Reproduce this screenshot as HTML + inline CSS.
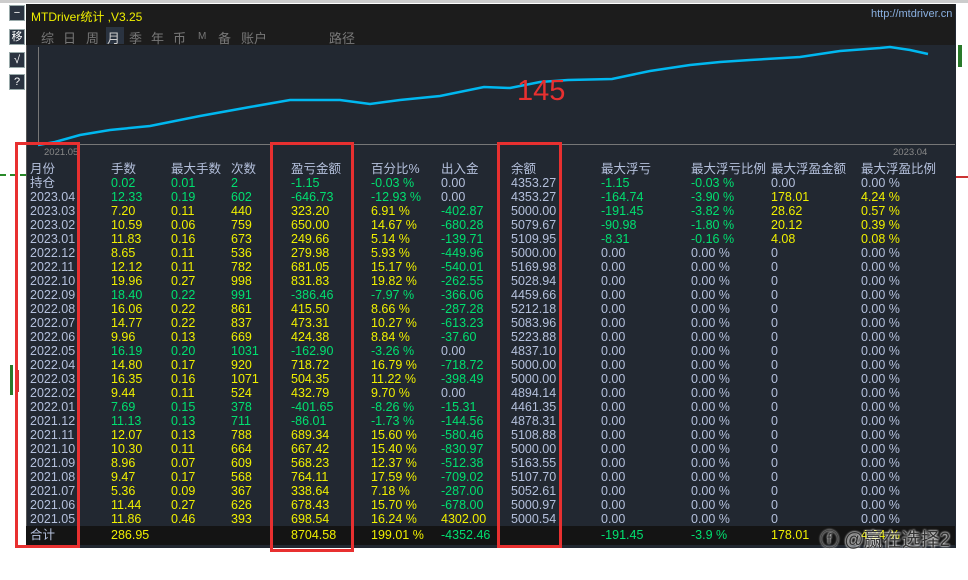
<!DOCTYPE html>
<html><head><meta charset="utf-8"><style>
body{margin:0;width:968px;height:580px;background:#fff;position:relative;overflow:hidden;font-family:"Liberation Sans","Noto Sans CJK SC",sans-serif;}
.a{position:absolute}
.r{position:absolute;left:0;width:968px;height:14px;font-size:12.5px;line-height:14px;white-space:nowrap}
.r span{position:absolute}
.r span:nth-child(1){left:30px}.r span:nth-child(2){left:111px}.r span:nth-child(3){left:171px}.r span:nth-child(4){left:231px}
.r span:nth-child(5){left:291px}.r span:nth-child(6){left:371px}.r span:nth-child(7){left:441px}.r span:nth-child(8){left:511px}
.r span:nth-child(9){left:601px}.r span:nth-child(10){left:691px}.r span:nth-child(11){left:771px}.r span:nth-child(12){left:861px}
.g{color:#b4c0dc}.y{color:#f0f000}.n{color:#00e070}
.y span{color:#f0f000}.n span{color:#00e070}
span.g{color:#b4c0dc}span.y{color:#f0f000}span.n{color:#00e070}
.box{position:absolute;border:3px solid #e83030;box-sizing:border-box}
.btn{position:absolute;left:9px;width:14px;height:14px;background:#2a3340;border:1px solid #9aa;color:#fff;font-size:11px;line-height:14px;text-align:center}
.tab{position:absolute;top:28px;font-size:13px;color:#777}
</style></head><body>
<div class="a" style="left:0;top:0;width:968px;height:3px;background:#ccc"></div>
<div class="a" style="left:0;top:174px;width:26px;height:2px;border-top:2px dashed #2a8a2a"></div>
<div class="a" style="left:955px;top:176px;width:13px;height:2px;background:#c33"></div>
<div class="a" style="left:958px;top:45px;width:4px;height:22px;background:#2a7a2a"></div>
<div class="a" style="left:10px;top:365px;width:3px;height:30px;background:#2a7a2a"></div>
<div class="a" style="left:15px;top:370px;width:4px;height:22px;background:#c33"></div>
<div class="btn" style="top:5px">−</div>
<div class="btn" style="top:29px">移</div>
<div class="btn" style="top:52px">√</div>
<div class="btn" style="top:74px">?</div>
<div class="a" style="left:26px;top:4px;width:929px;height:544px;background:#222831;border-left:1px solid #555"></div>
<div class="a" style="left:26px;top:4px;width:929px;height:41px;background:#1c1c1c"></div>
<div class="a" style="left:31px;top:8px;color:#f0f000;font-size:12px">MTDriver统计 ,V3.25</div>
<div class="a" style="left:871px;top:8px;color:#8ab0e0;font-size:11px">http://mtdriver.cn</div>
<div class="a" style="left:106px;top:27px;width:18px;height:17px;background:#2a3340"></div>
<span class="tab" style="left:41px">综</span><span class="tab" style="left:63px">日</span><span class="tab" style="left:86px">周</span><span class="tab" style="left:107px;color:#ccc">月</span><span class="tab" style="left:129px">季</span><span class="tab" style="left:151px">年</span><span class="tab" style="left:173px">币</span><span class="tab" style="left:198px;font-size:10px;top:31px">M</span><span class="tab" style="left:218px">备</span><span class="tab" style="left:241px">账户</span><span class="tab" style="left:329px">路径</span>
<svg class="a" style="left:0;top:0" width="968" height="160">
<line x1="38.5" y1="47" x2="38.5" y2="145" stroke="#777"/>
<line x1="26" y1="144.5" x2="955" y2="144.5" stroke="#777"/>
<polyline fill="none" stroke="#00b8f0" stroke-width="2.5" points="38,145 55,142 80,135 110,130 150,126 200,116 250,107 290,100 340,100 370,104 400,100 440,96 484,87 510,88 540,82 568,80 612,79 650,71 690,65 720,62 750,60 800,57 840,51 880,48 890,47 910,50 928,54"/>
<text x="517" y="100" fill="#e83030" font-size="29" font-family="Liberation Sans">145</text>
<text x="44" y="155" fill="#888" font-size="9.5" font-family="Liberation Sans">2021.05</text>
<text x="893" y="155" fill="#888" font-size="9.5" font-family="Liberation Sans">2023.04</text>
</svg>
<div class="a" style="left:26px;top:526px;width:929px;height:19px;background:#141414"></div>
<div class="r g" style="top:162px"><span>月份</span><span>手数</span><span>最大手数</span><span>次数</span><span>盈亏金额</span><span>百分比%</span><span>出入金</span><span>余额</span><span>最大浮亏</span><span>最大浮亏比例</span><span>最大浮盈金额</span><span>最大浮盈比例</span></div>
<div class="r n" style="top:176px"><span class="g">持仓</span><span>0.02</span><span>0.01</span><span>2</span><span>-1.15</span><span>-0.03 %</span><span class="g">0.00</span><span class="g">4353.27</span><span>-1.15</span><span>-0.03 %</span><span class="g">0.00</span><span class="g">0.00 %</span></div>
<div class="r n" style="top:190px"><span class="g">2023.04</span><span>12.33</span><span>0.19</span><span>602</span><span>-646.73</span><span>-12.93 %</span><span class="g">0.00</span><span class="g">4353.27</span><span>-164.74</span><span>-3.90 %</span><span class="y">178.01</span><span class="y">4.24 %</span></div>
<div class="r y" style="top:204px"><span class="g">2023.03</span><span>7.20</span><span>0.11</span><span>440</span><span>323.20</span><span>6.91 %</span><span class="n">-402.87</span><span class="g">5000.00</span><span class="n">-191.45</span><span class="n">-3.82 %</span><span>28.62</span><span>0.57 %</span></div>
<div class="r y" style="top:218px"><span class="g">2023.02</span><span>10.59</span><span>0.06</span><span>759</span><span>650.00</span><span>14.67 %</span><span class="n">-680.28</span><span class="g">5079.67</span><span class="n">-90.98</span><span class="n">-1.80 %</span><span>20.12</span><span>0.39 %</span></div>
<div class="r y" style="top:232px"><span class="g">2023.01</span><span>11.83</span><span>0.16</span><span>673</span><span>249.66</span><span>5.14 %</span><span class="n">-139.71</span><span class="g">5109.95</span><span class="n">-8.31</span><span class="n">-0.16 %</span><span>4.08</span><span>0.08 %</span></div>
<div class="r y" style="top:246px"><span class="g">2022.12</span><span>8.65</span><span>0.11</span><span>536</span><span>279.98</span><span>5.93 %</span><span class="n">-449.96</span><span class="g">5000.00</span><span class="g">0.00</span><span class="g">0.00 %</span><span class="g">0</span><span class="g">0.00 %</span></div>
<div class="r y" style="top:260px"><span class="g">2022.11</span><span>12.12</span><span>0.11</span><span>782</span><span>681.05</span><span>15.17 %</span><span class="n">-540.01</span><span class="g">5169.98</span><span class="g">0.00</span><span class="g">0.00 %</span><span class="g">0</span><span class="g">0.00 %</span></div>
<div class="r y" style="top:274px"><span class="g">2022.10</span><span>19.96</span><span>0.27</span><span>998</span><span>831.83</span><span>19.82 %</span><span class="n">-262.55</span><span class="g">5028.94</span><span class="g">0.00</span><span class="g">0.00 %</span><span class="g">0</span><span class="g">0.00 %</span></div>
<div class="r n" style="top:288px"><span class="g">2022.09</span><span>18.40</span><span>0.22</span><span>991</span><span>-386.46</span><span>-7.97 %</span><span>-366.06</span><span class="g">4459.66</span><span class="g">0.00</span><span class="g">0.00 %</span><span class="g">0</span><span class="g">0.00 %</span></div>
<div class="r y" style="top:302px"><span class="g">2022.08</span><span>16.06</span><span>0.22</span><span>861</span><span>415.50</span><span>8.66 %</span><span class="n">-287.28</span><span class="g">5212.18</span><span class="g">0.00</span><span class="g">0.00 %</span><span class="g">0</span><span class="g">0.00 %</span></div>
<div class="r y" style="top:316px"><span class="g">2022.07</span><span>14.77</span><span>0.22</span><span>837</span><span>473.31</span><span>10.27 %</span><span class="n">-613.23</span><span class="g">5083.96</span><span class="g">0.00</span><span class="g">0.00 %</span><span class="g">0</span><span class="g">0.00 %</span></div>
<div class="r y" style="top:330px"><span class="g">2022.06</span><span>9.96</span><span>0.13</span><span>669</span><span>424.38</span><span>8.84 %</span><span class="n">-37.60</span><span class="g">5223.88</span><span class="g">0.00</span><span class="g">0.00 %</span><span class="g">0</span><span class="g">0.00 %</span></div>
<div class="r n" style="top:344px"><span class="g">2022.05</span><span>16.19</span><span>0.20</span><span>1031</span><span>-162.90</span><span>-3.26 %</span><span class="g">0.00</span><span class="g">4837.10</span><span class="g">0.00</span><span class="g">0.00 %</span><span class="g">0</span><span class="g">0.00 %</span></div>
<div class="r y" style="top:358px"><span class="g">2022.04</span><span>14.80</span><span>0.17</span><span>920</span><span>718.72</span><span>16.79 %</span><span class="n">-718.72</span><span class="g">5000.00</span><span class="g">0.00</span><span class="g">0.00 %</span><span class="g">0</span><span class="g">0.00 %</span></div>
<div class="r y" style="top:372px"><span class="g">2022.03</span><span>16.35</span><span>0.16</span><span>1071</span><span>504.35</span><span>11.22 %</span><span class="n">-398.49</span><span class="g">5000.00</span><span class="g">0.00</span><span class="g">0.00 %</span><span class="g">0</span><span class="g">0.00 %</span></div>
<div class="r y" style="top:386px"><span class="g">2022.02</span><span>9.44</span><span>0.11</span><span>524</span><span>432.79</span><span>9.70 %</span><span class="g">0.00</span><span class="g">4894.14</span><span class="g">0.00</span><span class="g">0.00 %</span><span class="g">0</span><span class="g">0.00 %</span></div>
<div class="r n" style="top:400px"><span class="g">2022.01</span><span>7.69</span><span>0.15</span><span>378</span><span>-401.65</span><span>-8.26 %</span><span>-15.31</span><span class="g">4461.35</span><span class="g">0.00</span><span class="g">0.00 %</span><span class="g">0</span><span class="g">0.00 %</span></div>
<div class="r n" style="top:414px"><span class="g">2021.12</span><span>11.13</span><span>0.13</span><span>711</span><span>-86.01</span><span>-1.73 %</span><span>-144.56</span><span class="g">4878.31</span><span class="g">0.00</span><span class="g">0.00 %</span><span class="g">0</span><span class="g">0.00 %</span></div>
<div class="r y" style="top:428px"><span class="g">2021.11</span><span>12.07</span><span>0.13</span><span>788</span><span>689.34</span><span>15.60 %</span><span class="n">-580.46</span><span class="g">5108.88</span><span class="g">0.00</span><span class="g">0.00 %</span><span class="g">0</span><span class="g">0.00 %</span></div>
<div class="r y" style="top:442px"><span class="g">2021.10</span><span>10.30</span><span>0.11</span><span>664</span><span>667.42</span><span>15.40 %</span><span class="n">-830.97</span><span class="g">5000.00</span><span class="g">0.00</span><span class="g">0.00 %</span><span class="g">0</span><span class="g">0.00 %</span></div>
<div class="r y" style="top:456px"><span class="g">2021.09</span><span>8.96</span><span>0.07</span><span>609</span><span>568.23</span><span>12.37 %</span><span class="n">-512.38</span><span class="g">5163.55</span><span class="g">0.00</span><span class="g">0.00 %</span><span class="g">0</span><span class="g">0.00 %</span></div>
<div class="r y" style="top:470px"><span class="g">2021.08</span><span>9.47</span><span>0.17</span><span>568</span><span>764.11</span><span>17.59 %</span><span class="n">-709.02</span><span class="g">5107.70</span><span class="g">0.00</span><span class="g">0.00 %</span><span class="g">0</span><span class="g">0.00 %</span></div>
<div class="r y" style="top:484px"><span class="g">2021.07</span><span>5.36</span><span>0.09</span><span>367</span><span>338.64</span><span>7.18 %</span><span class="n">-287.00</span><span class="g">5052.61</span><span class="g">0.00</span><span class="g">0.00 %</span><span class="g">0</span><span class="g">0.00 %</span></div>
<div class="r y" style="top:498px"><span class="g">2021.06</span><span>11.44</span><span>0.27</span><span>626</span><span>678.43</span><span>15.70 %</span><span class="n">-678.00</span><span class="g">5000.97</span><span class="g">0.00</span><span class="g">0.00 %</span><span class="g">0</span><span class="g">0.00 %</span></div>
<div class="r y" style="top:512px"><span class="g">2021.05</span><span>11.86</span><span>0.46</span><span>393</span><span>698.54</span><span>16.24 %</span><span>4302.00</span><span class="g">5000.54</span><span class="g">0.00</span><span class="g">0.00 %</span><span class="g">0</span><span class="g">0.00 %</span></div>
<div class="r y" style="top:528px"><span class="g">合计</span><span>286.95</span><span></span><span></span><span>8704.58</span><span>199.01 %</span><span class="n">-4352.46</span><span></span><span class="n">-191.45</span><span class="n">-3.9 %</span><span>178.01</span><span>4.24 %</span></div>
<div class="box" style="left:15px;top:142px;width:65px;height:406px"></div>
<div class="box" style="left:270px;top:142px;width:84px;height:410px"></div>
<div class="box" style="left:497px;top:142px;width:65px;height:406px"></div>
<div class="a" style="left:818px;top:528px;font-size:19px;color:#333;padding:0 2px;line-height:26px;text-shadow:0 0 2px #fff,0 0 2px #fff">ⓕ @赢在选择2</div>
</body></html>
